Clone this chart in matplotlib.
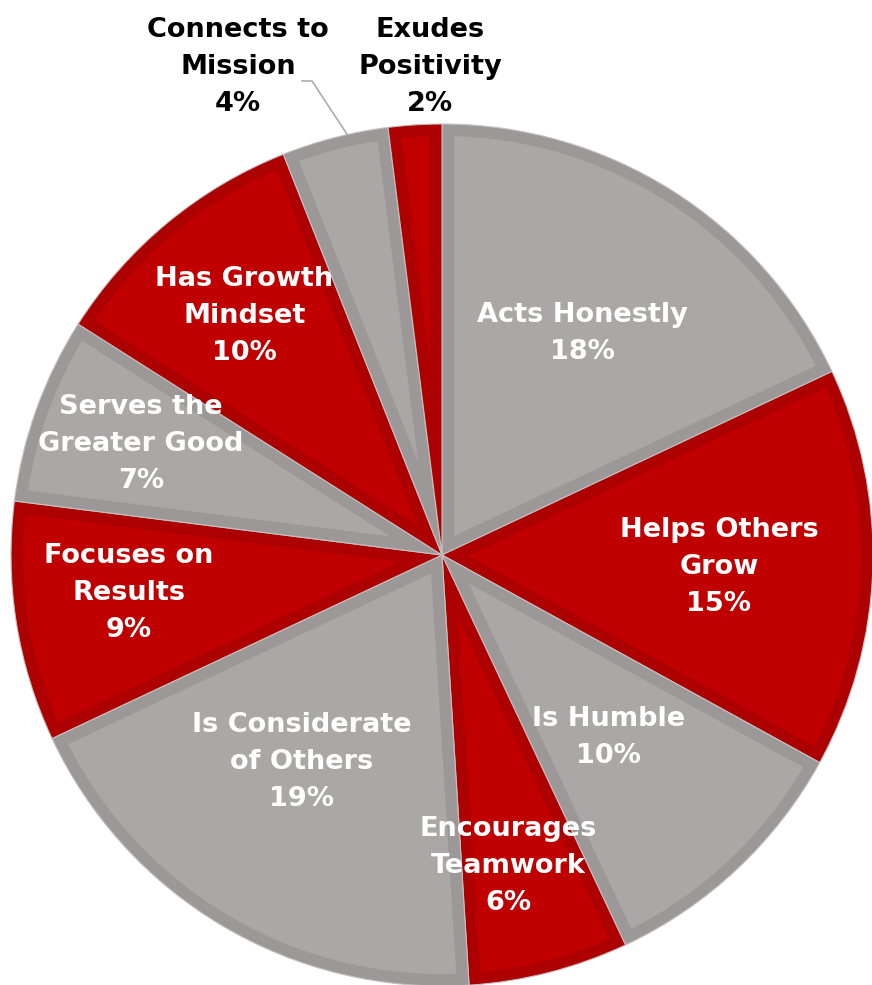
import numpy as np
import matplotlib.pyplot as plt
from matplotlib.patches import Polygon

labels = ["Acts Honestly", "Helps Others\nGrow", "Is Humble", "Encourages\nTeamwork",
          "Is Considerate\nof Others", "Focuses on\nResults", "Serves the\nGreater Good",
          "Has Growth\nMindset", "Connects to\nMission", "Exudes\nPositivity"]
values = [18, 15, 10, 6, 19, 9, 7, 10, 4, 2]

gray, gray_edge = "#aba7a7", "#9c9898"
red, red_edge = "#c00000", "#ad0000"
fills = [gray, red] * 5
edges = [gray_edge, red_edge] * 5

# label placement: radius fraction and small angle nudge (layout only)
lab_r = [0.609, 0.643, 0.573, 0.738, 0.58, 0.732, 0.744, 0.72]
lab_da = [0, -0.7, -0.7, -2.4, -3.5, -2.1, -0.4, 0]

fig = plt.figure(figsize=(8.72, 9.85), dpi=100)
ax = fig.add_axes([0, 0, 1, 1])

cx, cy, R = 442, 430, 431
border = 12

# outer wedges carry the darker border colour
wedges, _ = ax.pie(values, startangle=90, counterclock=False, colors=edges,
                   center=(cx, cy), radius=R, frame=True,
                   wedgeprops=dict(linewidth=0.8, edgecolor="#c4c1c1"))


def inset(w, d):
    # wedge shrunk inward by d on every side
    t1, t2 = np.deg2rad(w.theta1), np.deg2rad(w.theta2)
    c = np.array(w.center)
    r = w.r
    h = (t2 - t1) / 2
    bis = t1 + h
    apex = c + d / np.sin(h) * np.array([np.cos(bis), np.sin(bis)])
    da = np.arcsin(d / (r - d))
    phi = np.linspace(t1 + da, t2 - da, 120)
    arc = c + (r - d) * np.column_stack([np.cos(phi), np.sin(phi)])
    return np.vstack([apex, arc])


for w, fc in zip(wedges, fills):
    ax.add_patch(Polygon(inset(w, border), closed=True, facecolor=fc, edgecolor="none"))

ax.set_xlim(0, 872)
ax.set_ylim(0, 985)
ax.set_aspect("equal")
ax.axis("off")

font = dict(family="DejaVu Sans", fontweight="bold", fontsize=19.5, ha="center",
            va="center", linespacing=1.55)
cum = np.cumsum([0] + values)
for i, (lab, v) in enumerate(zip(labels, values)):
    if i < 8:
        mid = np.deg2rad(90 - (cum[i] + v / 2) * 3.6 + lab_da[i])
        r = lab_r[i] * R
        x, y = cx + r * np.cos(mid), cy + r * np.sin(mid)
        col = "white"
    else:
        x, y = (238 if i == 8 else 430), 918
        col = "black"
    ax.text(x, y, f"{lab}\n{v}%", color=col, **font)

# leader line for "Connects to Mission"
a = np.deg2rad(102.7)
ex, ey = cx + R * np.cos(a), cy + R * np.sin(a)
ax.plot([302, 312, ex], [904, 904, ey], color="#a6a6a6", lw=1.1)

fig.savefig("out.png", dpi=100)
